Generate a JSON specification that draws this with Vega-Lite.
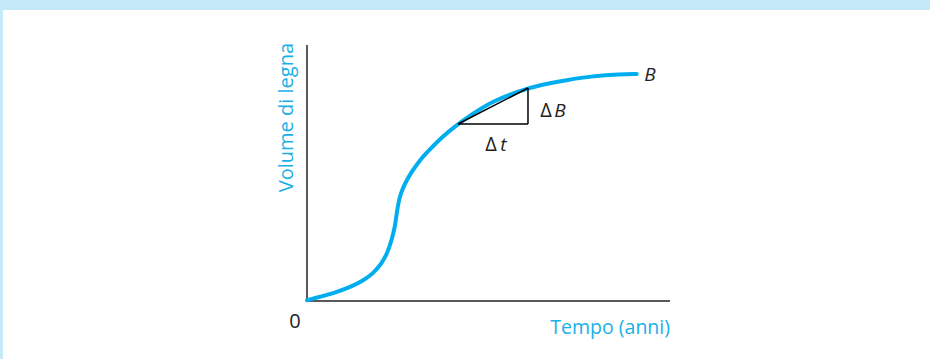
{
  "$schema": "https://vega.github.io/schema/vega-lite/v6.json",
  "width": 927,
  "height": 349,
  "autosize": "none",
  "padding": {"left": 3, "top": 10, "right": 0, "bottom": 0},
  "background": "#C6E9F9",
  "view": {"fill": "white", "stroke": null},
  "datasets": {
    "curve": [
      {"o": 0, "t": 0, "v": 0.03},
      {"o": 1, "t": 0.358, "v": 0.168},
      {"o": 2, "t": 0.725, "v": 0.301},
      {"o": 3, "t": 1.185, "v": 0.535},
      {"o": 4, "t": 1.551, "v": 0.793},
      {"o": 5, "t": 1.826, "v": 1.082},
      {"o": 6, "t": 2.058, "v": 1.473},
      {"o": 7, "t": 2.212, "v": 1.863},
      {"o": 8, "t": 2.333, "v": 2.383},
      {"o": 9, "t": 2.424, "v": 2.902},
      {"o": 10, "t": 2.471, "v": 3.426},
      {"o": 11, "t": 2.515, "v": 3.816},
      {"o": 12, "t": 2.581, "v": 4.207},
      {"o": 13, "t": 2.700, "v": 4.598},
      {"o": 14, "t": 2.884, "v": 5.051},
      {"o": 15, "t": 3.113, "v": 5.508},
      {"o": 16, "t": 3.342, "v": 5.86},
      {"o": 17, "t": 3.711, "v": 6.40},
      {"o": 18, "t": 4.124, "v": 6.875},
      {"o": 19, "t": 4.581, "v": 7.332},
      {"o": 20, "t": 5.132, "v": 7.813},
      {"o": 21, "t": 5.777, "v": 8.176},
      {"o": 22, "t": 6.419, "v": 8.438},
      {"o": 23, "t": 7.154, "v": 8.633},
      {"o": 24, "t": 7.887, "v": 8.789},
      {"o": 25, "t": 8.623, "v": 8.855},
      {"o": 26, "t": 9.083, "v": 8.867}
    ],
    "axes": [
      {"x1": 0, "y1": 0, "x2": 0, "y2": 10},
      {"x1": 0, "y1": 0, "x2": 10, "y2": 0}
    ],
    "tri": [
      {"x1": 4.16, "y1": 6.914, "x2": 6.088, "y2": 8.32},
      {"x1": 6.088, "y1": 8.32, "x2": 6.088, "y2": 6.914},
      {"x1": 4.16, "y1": 6.914, "x2": 6.088, "y2": 6.914}
    ],
    "upright": [
      {"x": 6.584, "y": 7.43, "label": "Δ"},
      {"x": 5.068, "y": 6.11, "label": "Δ"},
      {"x": -0.331, "y": -0.82, "label": "0"}
    ],
    "italic": [
      {"x": 6.97, "y": 7.43, "label": "B"},
      {"x": 5.41, "y": 6.11, "label": "t"},
      {"x": 9.449, "y": 8.828, "label": "B"}
    ],
    "xtitle": [{"x": 10.0, "y": -1.055, "label": "Tempo (anni)"}],
    "ytitle": [{"x": -0.551, "y": 10.08, "label": "Volume di legna"}]
  },
  "encoding": {
    "x": {"type": "quantitative", "scale": {"domain": [-8.375, 17.163], "nice": false, "zero": false}, "axis": null},
    "y": {"type": "quantitative", "scale": {"domain": [-2.266, 11.367], "nice": false, "zero": false}, "axis": null}
  },
  "layer": [
    {
      "data": {"name": "axes"},
      "mark": {"type": "rule", "color": "#222222", "strokeWidth": 1.5},
      "encoding": {"x": {"field": "x1"}, "y": {"field": "y1"}, "x2": {"field": "x2"}, "y2": {"field": "y2"}}
    },
    {
      "data": {"name": "curve"},
      "mark": {"type": "line", "color": "#00AEEF", "strokeWidth": 4, "interpolate": "basis", "strokeCap": "round"},
      "encoding": {"x": {"field": "t"}, "y": {"field": "v"}, "order": {"field": "o"}}
    },
    {
      "data": {"name": "tri"},
      "mark": {"type": "rule", "color": "#000000", "strokeWidth": 1.5},
      "encoding": {"x": {"field": "x1"}, "y": {"field": "y1"}, "x2": {"field": "x2"}, "y2": {"field": "y2"}}
    },
    {
      "data": {"name": "upright"},
      "mark": {"type": "text", "font": "Open Sans", "fontSize": 20, "color": "#222222", "baseline": "middle", "align": "center"},
      "encoding": {"x": {"field": "x"}, "y": {"field": "y"}, "text": {"field": "label"}}
    },
    {
      "data": {"name": "italic"},
      "mark": {"type": "text", "font": "Open Sans", "fontSize": 19, "fontStyle": "italic", "color": "#222222", "baseline": "middle", "align": "center"},
      "encoding": {"x": {"field": "x"}, "y": {"field": "y"}, "text": {"field": "label"}}
    },
    {
      "data": {"name": "xtitle"},
      "mark": {"type": "text", "font": "Open Sans", "fontSize": 19.5, "color": "#1AAFE6", "baseline": "middle", "align": "right"},
      "encoding": {"x": {"field": "x"}, "y": {"field": "y"}, "text": {"field": "label"}}
    },
    {
      "data": {"name": "ytitle"},
      "mark": {"type": "text", "font": "Open Sans", "fontSize": 20, "color": "#1AAFE6", "baseline": "middle", "align": "right", "angle": 270},
      "encoding": {"x": {"field": "x"}, "y": {"field": "y"}, "text": {"field": "label"}}
    }
  ]
}
